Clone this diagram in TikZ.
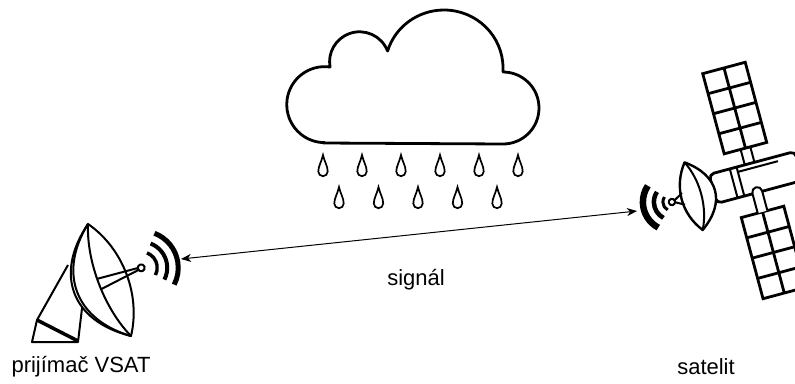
\documentclass[tikz,border=0pt]{standalone}
\usepackage{fontspec}
\setmainfont{Liberation Sans}
\usetikzlibrary{arrows.meta,positioning}

\begin{document}
\begin{tikzpicture}[x=1pt,y=-1pt,
	lbl/.style={font=\fontsize{22}{26}\selectfont,inner sep=0pt},
	outline/.style={line width=2.8pt,line join=round},
	part/.style={line width=2pt,line join=round},
	drop/.style={line width=1.7pt},
	wave/.style={line width=#1},
	panelline/.style={line width=2.8pt},
	sig/.style={line width=1pt,{Stealth[length=10pt,width=8pt,inset=3pt]}-{Stealth[length=10pt,width=8pt,inset=3pt]}},
	raindrop/.pic={\draw[drop] (0,-16) .. controls (1.5,-9) and (4.7,-5) .. (4.7,0.5) arc[start angle=0,end angle=180,radius=4.7] .. controls (-4.7,-5) and (-1.5,-9) .. cycle;}
	]
	\useasboundingbox (0,0) rectangle (795,383);

	\draw[outline,fill=white] (323,143) -- (503,144) arc[start angle=90,end angle=-90,radius=36] -- ++(0,-4)
		arc[start angle=0,end angle=-163,x radius=59,y radius=58] arc[start angle=-21,end angle=-190,radius=30]
		arc[start angle=-82,end angle=-270,radius=38] -- cycle;
	\foreach \i in {0,...,5} \pic at ({323+39*\i},171) {raindrop};
	\foreach \i in {0,...,4} \pic at ({339+39.5*\i},203) {raindrop};

	\draw[part] (68,265) -- (37,320) -- (32,342) -- (78,342) -- (83,300);
	\draw[line width=3.5pt] (37,320) -- (78,341);
	\begin{scope}[shift={(109.5,280)},rotate=21]
		\draw[part,fill=white] (0,-60) .. controls (-50,-25) and (-50,25) .. (0,60) .. controls (24,25) and (24,-25) .. (0,-60) -- cycle;
		\draw[part] (0,-60) .. controls (-46,-25) and (-46,25) .. (0,60);
		\draw[part] (0,-60) .. controls (-15,-25) and (-15,25) .. (0,60);
		\draw[part] (-11,-5.5) -- (31,-1) (-10.5,5.5) -- (31,1);
		\draw[part,fill=white] (34,0) circle[radius=3.5];
		\draw[wave=3.4pt] ([shift={(-48:16)}]34,0) arc[start angle=-48,end angle=48,radius=16];
		\draw[wave=4pt] ([shift={(-48:26)}]34,0) arc[start angle=-48,end angle=48,radius=26];
		\draw[wave=5pt] ([shift={(-48:37)}]34,0) arc[start angle=-48,end angle=48,radius=37];
	\end{scope}

	\begin{scope}[shift={(754,180)},rotate=15]
		\draw[panelline] (-22,-116) rectangle (22,-33) (0,-116) -- (0,-33);
		\foreach \y in {-95.25,-74.5,-53.75} \draw[panelline] (-22,\y) -- (22,\y);
		\draw[panelline] (-22,33) rectangle (22,117) (0,33) -- (0,117);
		\foreach \y in {54,75,96} \draw[panelline] (-22,\y) -- (22,\y);
		\draw[part] (-5,-33) rectangle (5,-17);
		\draw[outline,fill=white,rounded corners=5] (-42,-17) rectangle (47,13);
		\draw[part] (-20.5,-17) -- (-20.5,13) (-13.5,-17) -- (-13.5,13) (-13.5,-12) -- (28,-12);
		\draw[part,fill=white] (-5,33) -- (-5,12.5) arc[start angle=180,end angle=360,radius=5] -- (5,33);
		\draw[part,line width=2.4pt,fill=white] (-62.5,-35) .. controls (-79,-14) and (-79,14) .. (-62.5,35) .. controls (-33,14) and (-33,-14) .. (-62.5,-35) -- cycle;
		\draw[part] (-62.5,-35) .. controls (-52,-14) and (-52,14) .. (-62.5,35);
		\draw[part] (-73,-6) -- (-82,-1) (-73,6) -- (-82,1);
		\draw[part,fill=white] (-85,0) circle[radius=3.2];
		\draw[wave=3pt] ([shift={(133:9)}]-85,0) arc[start angle=133,end angle=229,radius=9];
		\draw[wave=4.5pt] ([shift={(133:18)}]-85,0) arc[start angle=133,end angle=229,radius=18];
		\draw[wave=6.5pt] ([shift={(133:29)}]-85,0) arc[start angle=133,end angle=229,radius=29];
	\end{scope}

	\coordinate (rxw) at (181,259);
	\coordinate (satw) at (637,211);
	\draw[sig] (rxw) -- (satw);
	\node[lbl] (sg) at (416,280) {signál};
	\node[lbl] (rx) at (81,367) {prijímač VSAT};
	\node[lbl] (sat) at (706,367) {satelit};
\end{tikzpicture}
\end{document}
